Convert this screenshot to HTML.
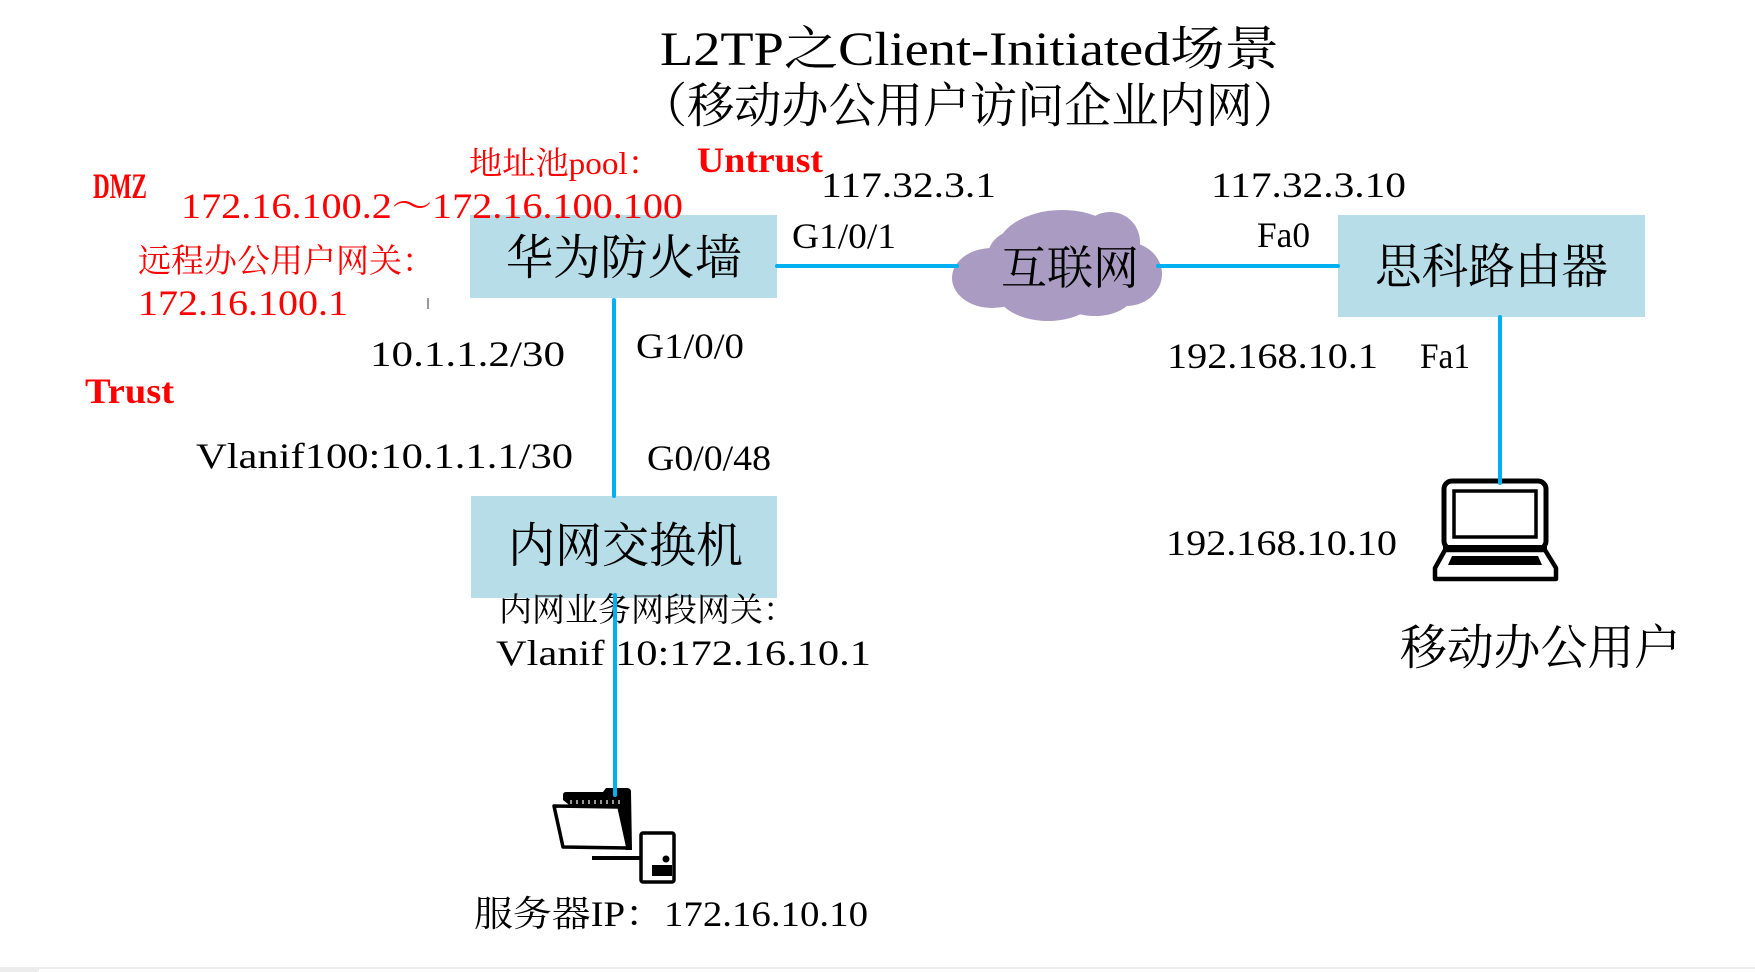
<!DOCTYPE html>
<html>
<head>
<meta charset="utf-8">
<style>
  html, body { margin:0; padding:0; background:#ffffff; }
  body { width:1755px; height:972px; overflow:hidden; }
  svg { display:block; }
  text { font-family: "Liberation Serif", "Noto Serif CJK SC", serif; }
</style>
</head>
<body>
<svg width="1755" height="972" viewBox="0 0 1755 972" xmlns="http://www.w3.org/2000/svg">
  <rect x="0" y="0" width="1755" height="972" fill="#ffffff"/>

  <!-- Boxes -->
  <rect x="470" y="215" width="307" height="83" fill="#b7dde8"/>
  <rect x="1338" y="215" width="307" height="102" fill="#b7dde8"/>
  <rect x="471" y="496" width="306" height="102" fill="#b7dde8"/>

  <!-- Title -->
  <text x="660" y="65" font-size="48" fill="#000" textLength="619" lengthAdjust="spacingAndGlyphs">L2TP之Client-Initiated场景</text>
  <text x="640" y="122" font-size="48" fill="#000" textLength="660" lengthAdjust="spacingAndGlyphs">（移动办公用户访问企业内网）</text>

  <!-- Red labels -->
  <text x="469" y="174" font-size="32" fill="#ff0000" textLength="192" lengthAdjust="spacingAndGlyphs">地址池pool：</text>
  <text x="697" y="172" font-size="36" font-weight="bold" fill="#ff0000" textLength="126" lengthAdjust="spacingAndGlyphs">Untrust</text>
  <text x="93" y="198" font-size="36" font-weight="bold" fill="#ff0000" textLength="54" lengthAdjust="spacingAndGlyphs">DMZ</text>
  <text x="181" y="218" font-size="36" fill="#ff0000" textLength="502" lengthAdjust="spacingAndGlyphs">172.16.100.2～172.16.100.100</text>
  <text x="138" y="272" font-size="33" fill="#ff0000" textLength="297" lengthAdjust="spacingAndGlyphs">远程办公用户网关：</text>
  <text x="138" y="315" font-size="36" fill="#ff0000" textLength="210" lengthAdjust="spacingAndGlyphs">172.16.100.1</text>
  <text x="85" y="403" font-size="36" font-weight="bold" fill="#ff0000" textLength="89" lengthAdjust="spacingAndGlyphs">Trust</text>

  <!-- small tick -->
  <line x1="428" y1="298" x2="428" y2="309" stroke="#555" stroke-width="1.2"/>

  <!-- Black labels -->
  <text x="370" y="366" font-size="36" fill="#000" textLength="195" lengthAdjust="spacingAndGlyphs">10.1.1.2/30</text>
  <text x="636" y="358" font-size="36" fill="#000" textLength="108" lengthAdjust="spacingAndGlyphs">G1/0/0</text>
  <text x="196" y="468" font-size="36" fill="#000" textLength="377" lengthAdjust="spacingAndGlyphs">Vlanif100:10.1.1.1/30</text>
  <text x="647" y="470" font-size="36" fill="#000" textLength="124" lengthAdjust="spacingAndGlyphs">G0/0/48</text>
  <text x="821" y="197" font-size="36" fill="#000" textLength="175" lengthAdjust="spacingAndGlyphs">117.32.3.1</text>
  <text x="1211" y="197" font-size="36" fill="#000" textLength="195" lengthAdjust="spacingAndGlyphs">117.32.3.10</text>
  <text x="792" y="248" font-size="36" fill="#000" textLength="104" lengthAdjust="spacingAndGlyphs">G1/0/1</text>
  <text x="1257" y="247" font-size="36" fill="#000" textLength="53" lengthAdjust="spacingAndGlyphs">Fa0</text>
  <text x="1167" y="368" font-size="36" fill="#000" textLength="211" lengthAdjust="spacingAndGlyphs">192.168.10.1</text>
  <text x="1420" y="368" font-size="36" fill="#000" textLength="50" lengthAdjust="spacingAndGlyphs">Fa1</text>
  <text x="1166" y="555" font-size="36" fill="#000" textLength="231" lengthAdjust="spacingAndGlyphs">192.168.10.10</text>

  <text x="506" y="274" font-size="48" fill="#000" textLength="236" lengthAdjust="spacingAndGlyphs">华为防火墙</text>
  <text x="1375" y="283" font-size="48" fill="#000" textLength="233" lengthAdjust="spacingAndGlyphs">思科路由器</text>
  <text x="508" y="562" font-size="48" fill="#000" textLength="235" lengthAdjust="spacingAndGlyphs">内网交换机</text>

  <!-- Cloud -->
  <g fill="#a99bc1">
    <ellipse cx="1062" cy="252" rx="66" ry="42"/>
    <circle cx="1110" cy="242" r="30"/>
    <ellipse cx="992" cy="278" rx="40" ry="30"/>
    <ellipse cx="1018" cy="256" rx="30" ry="26"/>
    <ellipse cx="1048" cy="290" rx="52" ry="31"/>
    <ellipse cx="1126" cy="274" rx="36" ry="32"/>
    <ellipse cx="1095" cy="294" rx="38" ry="22"/>
  </g>
  <text x="1001" y="284" font-size="46" fill="#000" textLength="138" lengthAdjust="spacingAndGlyphs">互联网</text>

  <!-- Switch lower labels -->
  <text x="499" y="621" font-size="33" fill="#000" textLength="297" lengthAdjust="spacingAndGlyphs">内网业务网段网关：</text>
  <text x="496" y="665" font-size="36" fill="#000" textLength="375" lengthAdjust="spacingAndGlyphs">Vlanif 10:172.16.10.1</text>
  <text x="474" y="926" font-size="36" fill="#000" textLength="394" lengthAdjust="spacingAndGlyphs">服务器IP：172.16.10.10</text>
  <text x="1400" y="664" font-size="48" fill="#000" textLength="281" lengthAdjust="spacingAndGlyphs">移动办公用户</text>

  <!-- Server icon -->
  <g>
    <path d="M563,800 L563,795 Q563,792 566,792 L603,792 L606,788 L627,788 Q631,788 631,792 L632,850 L626,850 Z" fill="#000"/>
    <g stroke="#fff" stroke-width="1.2">
      <line x1="571" y1="800" x2="571" y2="804"/>
      <line x1="577" y1="800" x2="577" y2="804"/>
      <line x1="583" y1="800" x2="583" y2="804"/>
      <line x1="589" y1="800" x2="589" y2="804"/>
      <line x1="595" y1="800" x2="595" y2="804"/>
      <line x1="601" y1="800" x2="601" y2="804"/>
      <line x1="607" y1="800" x2="607" y2="804"/>
      <line x1="613" y1="800" x2="613" y2="804"/>
      <line x1="619" y1="800" x2="619" y2="804"/>
    </g>
    <polygon points="554,806 619,807 628,848 563,847" fill="#fff" stroke="#000" stroke-width="3.5" stroke-linejoin="round"/>
    <line x1="592" y1="858" x2="641" y2="858" stroke="#000" stroke-width="4"/>
    <rect x="641" y="833" width="33" height="49" rx="2" fill="#fff" stroke="#000" stroke-width="3.5"/>
    <rect x="652" y="865" width="20" height="11" fill="#000"/>
    <circle cx="666" cy="859" r="3.5" fill="#000"/>
  </g>

  <!-- Laptop icon -->
  <g>
    <rect x="1444" y="481" width="102" height="68" rx="8" fill="#fff" stroke="#000" stroke-width="5"/>
    <rect x="1454" y="491" width="82" height="46" fill="#fff" stroke="#000" stroke-width="3.5"/>
    <polygon points="1445,550 1545,550 1556,568 1556,579 1435,579 1435,568" fill="#fff" stroke="#000" stroke-width="4.5" stroke-linejoin="round"/>
    <rect x="1443" y="545" width="104" height="7" fill="#000"/>
    <polygon points="1452,556 1538,556 1542,565 1448,565" fill="#000"/>
  </g>

  <!-- Connectors -->
  <g stroke="#00b0f0" stroke-width="4" stroke-linecap="round">
    <line x1="777" y1="266" x2="957" y2="266"/>
    <line x1="1158" y1="266" x2="1338" y2="266"/>
    <line x1="614" y1="300" x2="614" y2="496"/>
    <line x1="615" y1="595" x2="615" y2="795"/>
    <line x1="1500" y1="317" x2="1500" y2="483"/>
  </g>

  <!-- bottom strip -->
  <rect x="0" y="967" width="1755" height="2" fill="#ececec"/>
  <rect x="0" y="967" width="39" height="5" fill="#ececec"/>
</svg>
</body>
</html>
